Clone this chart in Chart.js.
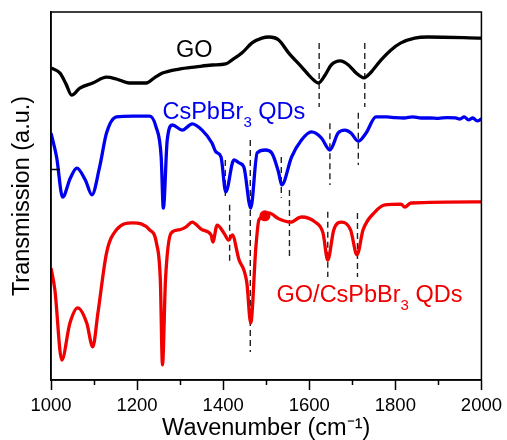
<!DOCTYPE html>
<html><head><meta charset="utf-8">
<script src="https://cdn.jsdelivr.net/npm/chart.js@4/dist/chart.umd.min.js"></script>
<style>html,body{margin:0;padding:0;background:#fff}#wrap{width:507px;height:440px}</style>
</head><body><div id="wrap"><canvas id="c" width="507" height="440"></canvas></div>
<script>
// ---- data (transmission in arbitrary units) ----
const xTickValues = [1000, 1200, 1400, 1600, 1800, 2000];
const xMinorTicks = [1100, 1300, 1500, 1700, 1900];

const goWn = [1000,1021,1035,1048,1067,1097,1129,1152,1182,1221,1240,1259,1298,1337,1374,1406,1421,1444,1467,1490,1506,1529,1552,1582,1605,1621,1637,1651,1672,1691,1709,1727,1744,1767,1790,1813,1845,1875,2000];
const goT  = [84.8,83.4,80.4,77.4,79.3,80.7,82.3,81.8,80.7,80.7,82.1,83.4,84.5,85.1,85.6,85.9,87.0,88.9,91.6,92.9,93.2,92.4,88.9,85.1,82.1,80.7,82.9,85.6,86.7,85.6,83.4,82.1,83.7,87.0,89.7,91.6,92.9,93.2,92.9];

const qdWn = [1000,1013,1027,1045,1060,1080,1095,1113,1129,1152,1190,1229,1244,1256,1261,1270,1282,1305,1328,1351,1374,1383,1395,1406,1425,1437,1448,1464,1479,1498,1513,1529,1536,1559,1582,1605,1628,1648,1667,1683,1697,1714,1732,1755,1780,1800,1820,1840,1860,1880,1900,1920,1940,1950,1960,1970,1980,1990,2000];
const qdT  = [67.1,60.6,49.7,54.9,57.6,54.3,50.3,57.9,67.1,71.5,71.7,71.7,68.8,60.6,46.7,65.2,69.3,67.9,69.6,67.9,64.4,62.0,60.6,51.1,59.8,59.0,57.9,46.7,61.7,62.5,61.7,56.3,53.0,60.6,65.2,67.4,65.8,62.5,67.1,67.9,67.1,64.9,67.1,71.5,71.5,71.3,71.2,71.5,71.2,71.2,71.1,71.3,71.2,70.9,71.5,70.7,71.2,70.4,70.9];

const compWn = [1000,1009,1025,1044,1062,1083,1097,1109,1129,1152,1190,1229,1245,1254,1259,1266,1279,1298,1314,1328,1351,1372,1376,1386,1402,1413,1421,1437,1448,1455,1464,1476,1483,1497,1506,1529,1556,1582,1614,1632,1643,1657,1675,1696,1711,1725,1753,1776,1813,1822,1836,2000];
const compT  = [30.4,24.5,5.4,15.5,19.6,15.5,9.0,18.2,34.5,40.8,42.7,40.8,37.2,27.2,4.1,27.2,39.9,40.8,41.6,42.9,40.8,39.4,37.5,42.1,39.9,38.0,39.4,32.6,29.9,26.4,15.5,36.1,43.5,44.6,45.4,43.8,42.9,44.3,42.9,39.9,32.6,40.8,42.9,40.8,34.0,40.8,45.7,47.6,47.8,47.0,48.1,48.4];

const markerWn = [1497];
const markerT  = [44.6];

// dashed guide lines: wavenumber, top value, bottom value
const dashWn     = [1623,1729,1405,1415,1463,1535,1554,1648,1714,1643,1712];
const dashTop    = [91.6,91.6,59.8,47.6,65.2,60.6,51.6,69.8,72.6,45.7,45.4];
const dashBottom = [74.2,74.2,49.7,31.8,7.6,49.5,33.4,53.0,58.4,28.0,28.0];

const seriesNames = ['GO', 'CsPbBr3 QDs', 'GO/CsPbBr3 QDs'];
const yTickValue = 57.3;

// ---- build chart ----
const FONT = '"Liberation Sans", Arial, Helvetica, sans-serif';
const pts = (xs, ys) => xs.map((x, i) => ({x, y: ys[i]}));

const datasets = [
  {label: seriesNames[0], data: pts(goWn, goT), borderColor: '#000000', borderWidth: 3.3, pointRadius: 0, cubicInterpolationMode: 'monotone', order: 1},
  {label: seriesNames[1], data: pts(qdWn, qdT), borderColor: '#0000F0', borderWidth: 3.3, pointRadius: 0, cubicInterpolationMode: 'monotone', order: 1},
  {label: seriesNames[2], data: pts(compWn, compT), borderColor: '#F00000', borderWidth: 3.3, pointRadius: 0, cubicInterpolationMode: 'monotone', order: 1},
  {label: 'marker', data: pts(markerWn, markerT), showLine: false, pointRadius: 5.5, pointBackgroundColor: '#F00000', pointBorderWidth: 0, order: 0}
];
dashWn.forEach((w, i) => {
  datasets.push({label: 'guide' + i, data: [{x: w, y: dashTop[i]}, {x: w, y: dashBottom[i]}], borderColor: '#222', borderWidth: 1.4, borderDash: [6, 4], pointRadius: 0, order: 2});
});

const decor = {
  id: 'decor',
  afterDraw(chart) {
    const {ctx, chartArea: a, scales: {x, y}} = chart;
    ctx.save();
    ctx.strokeStyle = '#000'; ctx.lineWidth = 1.5;
    ctx.strokeRect(a.left, a.top, a.right - a.left, a.bottom - a.top);
    // minor x ticks
    ctx.beginPath();
    xMinorTicks.forEach(v => { const px = Math.round(x.getPixelForValue(v)) + 0.5; ctx.moveTo(px, a.bottom); ctx.lineTo(px, a.bottom + 5); });
    // inward y tick
    const py = Math.round(y.getPixelForValue(yTickValue)) + 0.5;
    ctx.moveTo(a.left, py); ctx.lineTo(a.left + 9, py);
    ctx.stroke();
    // series labels
    const big = '23.5px ' + FONT, small = '15px ' + FONT;
    function draw(parts, px, py0, color, center) {
      ctx.fillStyle = color; ctx.textBaseline = 'alphabetic'; ctx.textAlign = 'left';
      let w = 0;
      parts.forEach(p => { ctx.font = p.sub ? small : big; w += ctx.measureText(p.t).width; });
      let cx = center ? px - w / 2 : px;
      parts.forEach(p => { ctx.font = p.sub ? small : big; ctx.fillText(p.t, cx, py0 + (p.sub ? 8 : 0)); cx += ctx.measureText(p.t).width; });
    }
    draw([{t: 'GO'}], x.getPixelForValue(1333), y.getPixelForValue(87.8), '#000', true);
    draw([{t: 'CsPbBr'}, {t: '3', sub: true}, {t: ' QDs'}], x.getPixelForValue(1259), y.getPixelForValue(70.9), '#0000F0', false);
    draw([{t: 'GO/CsPbBr'}, {t: '3', sub: true}, {t: ' QDs'}], x.getPixelForValue(1524), y.getPixelForValue(21.2), '#F00000', false);
    ctx.restore();
  }
};

new Chart(document.getElementById('c'), {
  type: 'line',
  data: {datasets},
  options: {
    responsive: false, animation: false,
    layout: {padding: {top: 12, right: 23, left: 0, bottom: 0}},
    plugins: {legend: {display: false}, tooltip: {enabled: false}},
    scales: {
      x: {
        type: 'linear', min: 1000, max: 2000,
        afterBuildTicks: s => { s.ticks = xTickValues.map(v => ({value: v})); },
        afterFit: s => { s.height = 60; },
        ticks: {color: '#000', font: {family: FONT, size: 18.5}, padding: 5, maxRotation: 0, autoSkip: false, callback: v => String(v)},
        grid: {drawOnChartArea: false, tickLength: 10, tickWidth: 1.5, tickColor: '#000'},
        border: {color: '#000', width: 1.5},
        title: {display: true, text: 'Wavenumber (cm\u207B\u00B9)', color: '#000', font: {family: FONT, size: 23.5, lineHeight: 1}, padding: {top: 0, bottom: 0}}
      },
      y: {
        type: 'linear', min: 0, max: 100,
        afterFit: s => { s.width = 51; },
        ticks: {display: false},
        grid: {display: false, drawTicks: false},
        border: {color: '#000', width: 1.5},
        title: {display: true, text: 'Transmission (a.u.)', color: '#000', font: {family: FONT, size: 23.5, lineHeight: 1.2}, padding: {top: 8, bottom: 0}}
      }
    }
  },
  plugins: [decor]
});
</script></body></html>
